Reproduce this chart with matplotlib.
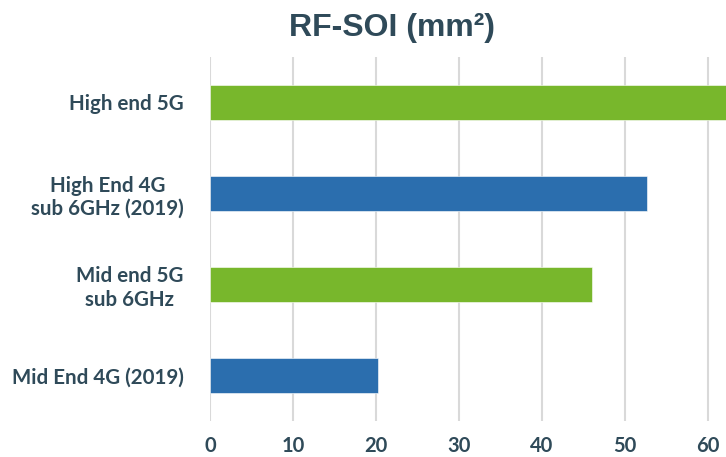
import matplotlib
matplotlib.use("Agg")
import matplotlib.pyplot as plt

# RF-SOI die area per handset class (mm²)
categories = ["High end 5G", "High End 4G\nsub 6GHz (2019)", "Mid end 5G\nsub 6GHz", "Mid End 4G (2019)"]
values = [64, 52.7, 46, 20.2]
bar_colors = ["#78B72C", "#2B6EAE", "#78B72C", "#2B6EAE"]
x_ticks = [0, 10, 20, 30, 40, 50, 60]
title = "RF-SOI (mm²)"

text_color = "#2F4A59"
grid_color = "#D9D9D9"

W, H = 726, 457
fig = plt.figure(figsize=(W / 100, H / 100), dpi=100)

# Axes in pixel terms: x=0 at 210 px, 8.3 px per unit, plot area from y=57 to y=421
x0_px, px_per_unit, xmax = 210, 8.3, 70
top_px, bottom_px = 57, 421
ax = fig.add_axes([x0_px / W, (H - bottom_px) / H,
                   xmax * px_per_unit / W, (bottom_px - top_px) / H])

y = list(range(len(categories)))
ax.barh(y, values, height=0.385, color=bar_colors, edgecolor="#FFFFFF",
        linewidth=0.4, zorder=3)

ax.set_xlim(0, xmax)
ax.set_ylim(len(categories) - 0.5, -0.5)
ax.set_xticks(x_ticks)
ax.set_yticks(y)
ax.set_yticklabels(categories, family="Lato", fontweight="bold",
                   fontsize=14.8, color=text_color, multialignment="center")
ax.set_xticklabels([str(t) for t in x_ticks], family="Lato",
                   fontweight="bold", fontsize=14.5, color=text_color)
ax.tick_params(axis="x", length=0, pad=11)
ax.tick_params(axis="y", length=0, pad=19)

ax.grid(axis="x", color=grid_color, linewidth=1.5, zorder=0)
ax.grid(axis="y", visible=False)
for s in ["top", "right", "bottom", "left"]:
    ax.spines[s].set_visible(False)

fig.text(392 / W, 1 - 28 / H, title, family="Liberation Sans",
         fontweight="bold", fontsize=23, color=text_color,
         ha="center", va="center")

fig.savefig("out.png", dpi=100)
